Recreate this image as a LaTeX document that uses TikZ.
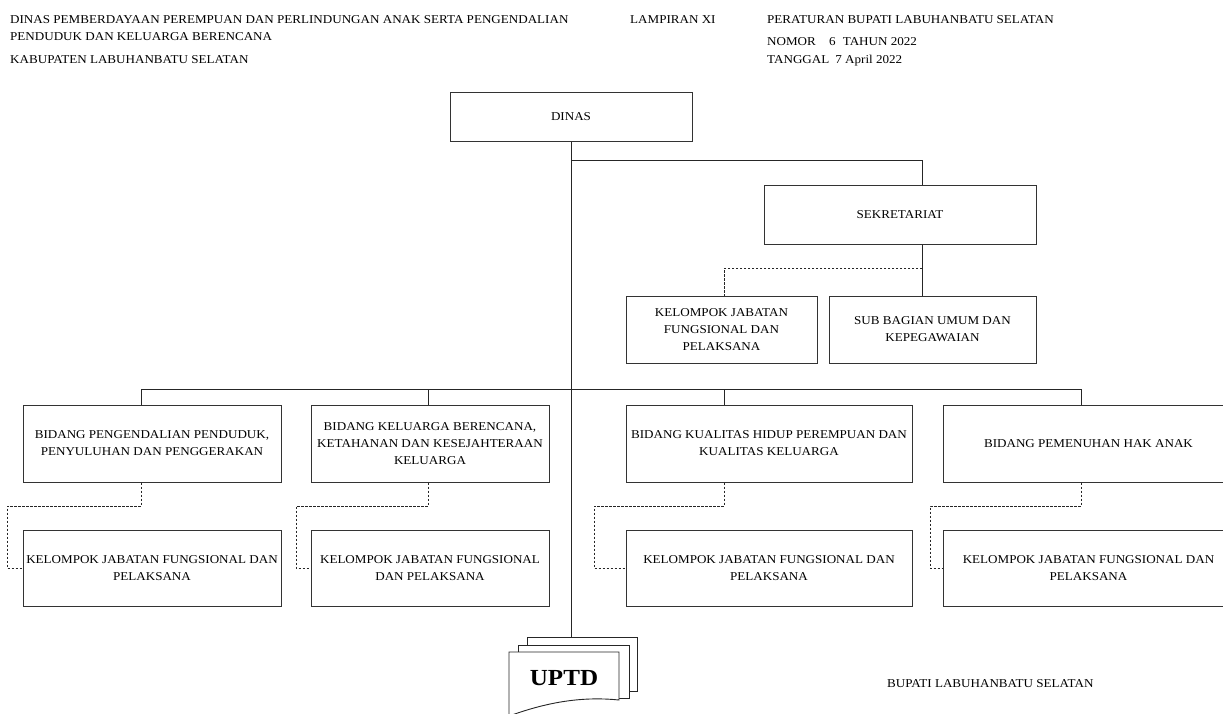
\documentclass[tikz,border=0pt]{standalone}
\usepackage{fontspec}
\setmainfont[FakeStretch=1.09]{Liberation Serif}
\usetikzlibrary{calc}
\begin{document}
\begin{tikzpicture}[x=1pt,y=-1pt,
  box/.style={draw=black!80, line width=1pt, fill=white, align=center, inner sep=0pt, font=\fontsize{12}{17}\selectfont},
  conn/.style={draw=black!85, line width=0.9pt},
  dsh/.style={draw=black!85, line width=0.8pt, dash pattern=on 2.5pt off 1.5pt},
  hdr/.style={anchor=base west, inner sep=0pt, font=\fontsize{12}{17}\selectfont}]
\useasboundingbox (0,0) rectangle (1223,713);
\clip (0,0) rectangle (1223,713);
\fill[white] (0,0) rectangle (1223,713);

% header
\node[hdr] (h1) at (10,23) {DINAS PEMBERDAYAAN PEREMPUAN DAN PERLINDUNGAN ANAK SERTA PENGENDALIAN};
\node[hdr] (h2) at (10,40.5) {PENDUDUK DAN KELUARGA BERENCANA};
\node[hdr] (h3) at (10,63.5) {KABUPATEN LABUHANBATU SELATAN};
\node[hdr] (h4) at (630,23) {LAMPIRAN XI};
\node[hdr] (h5) at (767,23) {PERATURAN BUPATI LABUHANBATU SELATAN};
\node[hdr] (h6) at (767,45.5) {NOMOR\hspace{1.1em}6\hspace{0.6em}TAHUN 2022};
\node[hdr] (h7) at (767,63.5) {TANGGAL\hspace{0.5em}7 April 2022};
\node[hdr] (bupati) at (887,687) {BUPATI LABUHANBATU SELATAN};

% boxes
\node[box, minimum width=242, minimum height=49] (dinas) at (571,116.5) {DINAS};
\node[box, minimum width=272, minimum height=59] (sek) at (900,214.5) {SEKRETARIAT};
\node[box, minimum width=191, minimum height=67] (kjfs) at (721.5,329.5) {KELOMPOK JABATAN\\FUNGSIONAL DAN\\PELAKSANA};
\node[box, minimum width=207, minimum height=67] (sub) at (932.5,329.5) {SUB BAGIAN UMUM DAN\\KEPEGAWAIAN};

\node[box, minimum width=258, minimum height=77] (bid1) at (152,443.5) {BIDANG PENGENDALIAN PENDUDUK,\\PENYULUHAN DAN PENGGERAKAN};
\node[box, minimum width=238, minimum height=77] (bid2) at (430,443.5) {BIDANG KELUARGA BERENCANA,\\KETAHANAN DAN KESEJAHTERAAN\\KELUARGA};
\node[box, minimum width=286, minimum height=77] (bid3) at (769,443.5) {BIDANG KUALITAS HIDUP PEREMPUAN DAN\\KUALITAS KELUARGA};
\node[box, minimum width=291, minimum height=77] (bid4) at (1088.5,443.5) {BIDANG PEMENUHAN HAK ANAK};

\node[box, minimum width=258, minimum height=76] (kjf1) at (152,568) {KELOMPOK JABATAN FUNGSIONAL DAN\\PELAKSANA};
\node[box, minimum width=238, minimum height=76] (kjf2) at (430,568) {KELOMPOK JABATAN FUNGSIONAL\\DAN PELAKSANA};
\node[box, minimum width=286, minimum height=76] (kjf3) at (769,568) {KELOMPOK JABATAN FUNGSIONAL DAN\\PELAKSANA};
\node[box, minimum width=291, minimum height=76] (kjf4) at (1088.5,568) {KELOMPOK JABATAN FUNGSIONAL DAN\\PELAKSANA};

% UPTD stack
\draw[conn, fill=white] (527,637) rectangle (637,691);
\draw[conn, fill=white] (518,645) rectangle (629,698);
\draw[conn, fill=white] (509,652) -- (619,652) -- (619,700) .. controls (580,696) and (545,703) .. (509,716) -- cycle;
\node[inner sep=0pt, font=\bfseries\fontsize{23}{23}\selectfont] (uptd) at (564,678) {UPTD};
\coordinate (uptdtop) at (571,637);

% connectors
\coordinate (j1) at (571,160);
\coordinate (x922) at (922,0);
\coordinate (bL) at (141,389);
\coordinate (bR) at (1081,389);
\coordinate (x428) at (428,389);
\coordinate (x724) at (724,389);

\draw[conn] (dinas.south) -- (uptdtop);
\draw[conn] (j1) -| (x922 |- sek.north);
\draw[conn] (x922 |- sek.south) -- (x922 |- sub.north);
\draw[dsh] (922,268) -| (x724 |- kjfs.north);

\draw[conn] (bL) -- (bR);
\draw[conn] (bL) -- (bL |- bid1.north);
\draw[conn] (x428) -- (x428 |- bid2.north);
\draw[conn] (x724) -- (x724 |- bid3.north);
\draw[conn] (bR) -- (bR |- bid4.north);

\draw[dsh] (bL |- bid1.south) |- (7,506) |- (kjf1.west);
\draw[dsh] (x428 |- bid2.south) |- (296,506) |- (kjf2.west);
\draw[dsh] (x724 |- bid3.south) |- (594,506) |- (kjf3.west);
\draw[dsh] (bR |- bid4.south) |- (930,506) |- (kjf4.west);
\end{tikzpicture}
\end{document}
